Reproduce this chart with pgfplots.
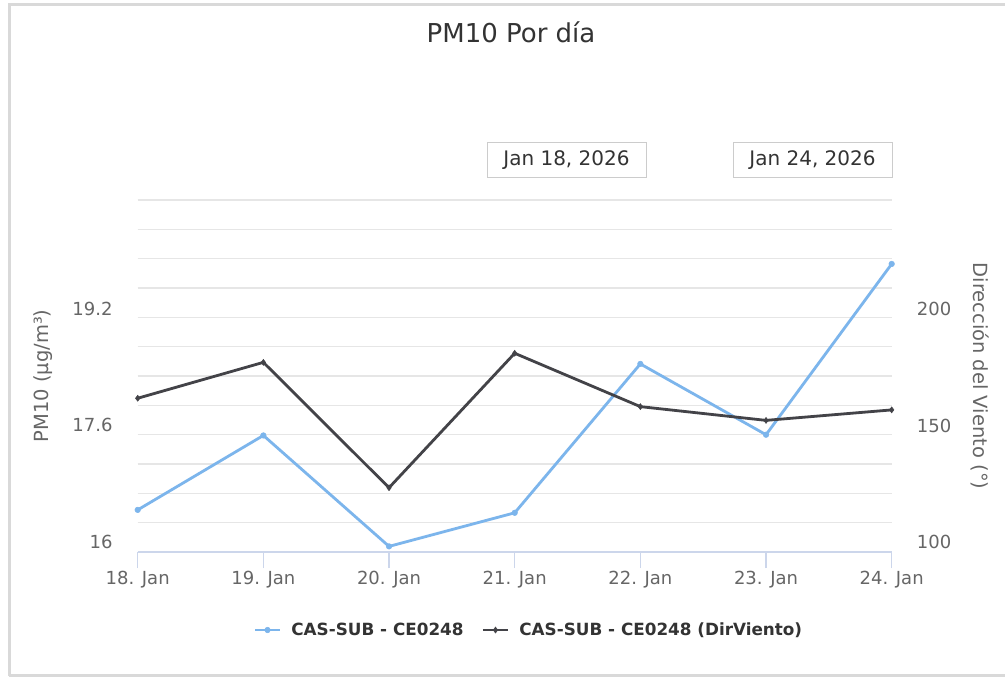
\documentclass[border=0pt]{standalone}
\usepackage{fontspec}
\setmainfont{DejaVu Sans}
\usepackage{pgfplots}
\pgfplotsset{compat=1.18}
\definecolor{hcblue}{HTML}{7CB5EC}
\definecolor{hcblack}{HTML}{434348}
\definecolor{gridc}{HTML}{E6E6E6}
\definecolor{axisc}{HTML}{CCD6EB}
\definecolor{txt}{HTML}{666666}
\definecolor{ttl}{HTML}{333333}
\definecolor{framec}{HTML}{D9D9D9}
\definecolor{boxc}{HTML}{CCCCCC}
\begin{document}
\begin{tikzpicture}[x=1pt,y=1pt]
\useasboundingbox (0,0) rectangle (1005,-677);
\fill[white] (0,0) rectangle (1005,-677);
\draw[framec, line width=3pt] (9,-676) -- (9,-5) -- (1005,-5);
\draw[framec, line width=3pt] (9,-675) -- (1005,-675);
\node[ttl, font=\fontsize{26}{30}\selectfont] at (511,-32) {PM10 Por día};
\node[draw=boxc, line width=1pt, minimum width=159pt, minimum height=35pt, inner sep=0pt, text=ttl, font=\fontsize{20}{24}\selectfont] at (566.5,-160) {Jan 18, 2026};
\node[draw=boxc, line width=1pt, minimum width=159pt, minimum height=35pt, inner sep=0pt, text=ttl, font=\fontsize{20}{24}\selectfont] at (812.5,-160) {Jan 24, 2026};

\begin{axis}[
  at={(137.7pt,-552pt)}, anchor=south west,
  scale only axis, width=754pt, height=352pt,
  xmin=0, xmax=6, ymin=15.863, ymax=20.686,
  axis x line*=bottom, axis y line*=left,
  x axis line style={-, axisc, line width=1.5pt},
  y axis line style={draw=none},
  tick align=outside, major tick length=16pt,
  xtick={0,1,2,3,4,5,6},
  xticklabels={18. Jan,19. Jan,20. Jan,21. Jan,22. Jan,23. Jan,24. Jan},
  x tick style={axisc, line width=1.5pt},
  xticklabel style={txt, font=\fontsize{18}{21}\selectfont, inner sep=0pt, yshift=-3pt},
  ytick={16,17.6,19.2}, y tick style={draw=none},
  yticklabel style={txt, font=\fontsize{18}{21}\selectfont, inner sep=0pt, xshift=-9pt},
  /pgf/number format/assume math mode=true,
  /pgf/number format/fixed,
  major grid style={gridc, line width=1.2pt},
  extra y ticks={16.265,16.667,17.069,17.471,17.873,18.274,18.676,19.078,19.480,19.882,20.284,20.686},
  extra y tick labels={},
  extra y tick style={ymajorgrids=true, tick style={draw=none}},
  ylabel={PM10 (µg/m³)},
  ylabel style={at={(axis description cs:-0.1256,0.5)}, anchor=center, txt, font=\fontsize{19.5}{23}\selectfont},
  legend columns=2,
  legend style={at={(axis description cs:0.5175,-0.2216)}, anchor=center, draw=none, fill=none,
    font=\bfseries\fontsize{16.8}{20}\selectfont, text=ttl,
    /tikz/every odd column/.append style={column sep=10pt},
    /tikz/every even column/.append style={column sep=18pt},
    nodes={inner sep=0pt}},
  legend image code/.code={\draw[mark repeat=2,mark phase=2,#1] plot coordinates {(0pt,0pt) (12.5pt,0pt) (25pt,0pt)};},
]
\addplot[hcblue, line width=2.8pt, mark=*, mark size=2.8pt, mark options={line width=0.5pt}] coordinates {
(0,16.44) (1,17.46) (2,15.94) (3,16.40) (4,18.44) (5,17.47) (6,19.81)};
\addlegendentry{CAS-SUB - CE0248}
\addlegendimage{hcblack, line width=2.8pt, mark=diamond*, mark size=3pt, mark options={line width=0.5pt}}
\addlegendentry{CAS-SUB - CE0248 (DirViento)}
\end{axis}

\begin{axis}[
  at={(137.7pt,-552pt)}, anchor=south west,
  scale only axis, width=754pt, height=352pt,
  xmin=0, xmax=6, ymin=95.71, ymax=246.78,
  axis x line=none, axis y line*=right,
  y axis line style={draw=none},
  tick align=outside, major tick length=16pt,
  ytick={100,150,200}, y tick style={draw=none},
  yticklabel style={txt, font=\fontsize{18}{21}\selectfont, inner sep=0pt, xshift=9pt},
  /pgf/number format/assume math mode=true,
  ylabel={Dirección del Viento (°)},
  ylabel style={at={(axis description cs:1.1165,0.5)}, anchor=center, rotate=180, txt, font=\fontsize{19.5}{23}\selectfont},
]
\addplot[hcblack, line width=2.8pt, mark=diamond*, mark size=3pt, mark options={line width=0.5pt}] coordinates {
(0,161.7) (1,177.1) (2,123.3) (3,181.0) (4,158.1) (5,152.2) (6,156.7)};
\end{axis}
\end{tikzpicture}
\end{document}
